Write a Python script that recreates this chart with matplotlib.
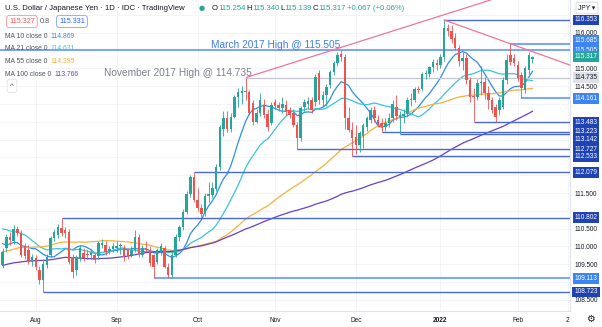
import numpy as np
import pandas as pd
import matplotlib
matplotlib.use("Agg")
import matplotlib.pyplot as plt
from matplotlib.patches import Rectangle

plt.rcParams["font.family"] = ["Liberation Sans", "DejaVu Sans"]

# daily closes before the visible window (feed for the moving averages)
hist_closes = [
    106.75, 106.70, 107.00, 107.98, 108.33, 108.90, 108.50, 108.38, 108.50, 109.04,
    109.13, 109.00, 108.85, 109.25, 108.88, 108.87, 108.57, 108.57, 109.00, 109.65,
    109.80, 110.39, 110.70,
    110.65, 110.28, 110.18, 109.75, 109.85, 109.25, 109.65, 109.40, 109.05, 108.90,
    108.75, 108.80, 108.13, 108.11, 108.07, 107.95, 107.88, 108.10, 108.75, 108.60,
    108.95, 109.30,
    109.45, 109.35, 109.18, 109.25, 108.60, 108.80, 108.60, 109.70, 109.65, 109.35,
    109.20, 108.90, 109.20, 108.75, 108.95, 108.75, 108.75, 109.15, 109.85, 109.85,
    109.55,
    109.50, 109.55, 110.30, 109.50, 109.25, 109.45, 109.60, 109.30, 109.70, 110.05,
    110.05, 110.70, 110.20, 110.20, 110.25, 110.65, 110.95, 110.85, 110.75, 110.60,
    110.50, 111.10,
    111.55, 111.05, 110.95, 110.60, 110.65, 109.80, 110.15, 110.40, 110.62, 109.95,
    109.80, 110.08, 109.48,
]

# USD/JPY daily candles, 20 Jul 2021 - 7 Feb 2022
opens = [
    109.48, 109.95, 110.27, 110.15, 110.50, 110.38, 110.02, 109.90, 109.57, 109.67,
    109.34, 109.06, 109.48, 109.76, 110.23, 110.32, 110.52, 110.45, 110.41, 109.71,
    109.34, 109.67, 109.82, 109.80, 109.76, 109.76, 109.72, 110.04, 110.04, 109.88,
    109.92, 109.96, 110.00, 109.95, 109.90, 109.75, 109.90, 110.27, 109.76, 109.95,
    109.90, 109.76, 109.57, 109.85, 109.95, 109.43, 109.20, 109.76, 110.27, 110.55,
    110.98, 111.48, 111.96, 111.30, 111.08, 110.94, 111.42, 111.45, 111.60, 112.24,
    113.30, 113.60, 113.30, 113.64, 114.20, 114.31, 114.37, 114.34, 114.02, 113.50,
    113.74, 113.95, 113.72, 113.45, 114.05, 113.97, 113.88, 113.97, 113.83, 113.74,
    113.40, 113.03, 113.92, 114.00, 114.10, 114.06, 114.86, 114.10, 114.25, 114.53,
    114.90, 115.14, 115.40, 115.32, 113.60, 113.27, 113.08, 112.85, 113.10, 113.36,
    113.55, 113.83, 113.55, 113.45, 113.35, 113.45, 113.60, 113.90, 113.62, 113.65,
    113.72, 114.10, 114.12, 114.42, 114.41, 114.83, 114.85, 115.04, 115.15, 115.08,
    115.31, 116.12, 116.05, 115.85, 115.57, 115.20, 115.30, 114.66, 114.22, 114.20,
    114.58, 114.62, 114.30, 114.10, 113.92, 113.83, 113.92, 114.67, 115.37, 115.30,
    115.09, 114.81, 114.39, 114.95, 115.254,
]
highs = [
    109.95, 110.35, 110.40, 110.60, 110.58, 110.45, 110.10, 110.05, 109.80, 109.75,
    109.45, 109.65, 109.80, 110.30, 110.50, 110.62, 110.802, 110.55, 110.48, 109.80,
    109.75, 110.05, 109.95, 109.90, 109.92, 109.82, 110.15, 110.20, 110.15, 110.00,
    110.10, 110.15, 110.10, 110.05, 109.95, 110.00, 110.45, 110.35, 110.05, 110.15,
    110.00, 109.80, 109.95, 110.10, 110.00, 109.55, 109.85, 110.35, 110.60, 111.05,
    111.55, 112.00, 112.079, 111.65, 111.20, 111.50, 111.80, 111.80, 112.30, 113.40,
    113.80, 113.80, 113.75, 114.25, 114.45, 114.50, 114.735, 114.40, 114.10, 113.85,
    114.30, 114.15, 113.85, 114.05, 114.15, 114.05, 114.20, 114.10, 113.90, 113.85,
    113.50, 113.95, 114.15, 114.20, 114.20, 114.85, 114.95, 114.35, 114.55, 114.95,
    115.20, 115.45, 115.52, 115.40, 113.90, 113.50, 113.40, 113.25, 113.45, 113.65,
    113.90, 113.95, 113.70, 113.60, 113.60, 113.75, 114.10, 114.25, 113.80, 113.85,
    114.20, 114.30, 114.48, 114.50, 114.90, 114.95, 115.05, 115.25, 115.25, 115.40,
    116.353, 116.25, 116.20, 116.00, 115.65, 115.45, 115.40, 114.75, 114.45, 114.70,
    115.05, 114.75, 114.50, 114.20, 114.00, 114.20, 114.75, 115.40, 115.685, 115.40,
    115.20, 114.90, 115.05, 115.45, 115.340,
]
lows = [
    109.40, 109.85, 110.05, 110.08, 110.30, 109.70, 109.65, 109.50, 109.45, 109.35,
    108.95, 108.723, 109.40, 109.70, 110.15, 110.25, 110.30, 110.25, 109.50, 109.12,
    109.20, 109.60, 109.60, 109.65, 109.65, 109.55, 109.65, 109.95, 109.75, 109.80,
    109.85, 109.85, 109.80, 109.60, 109.65, 109.70, 109.85, 109.70, 109.70, 109.85,
    109.45, 109.113, 109.50, 109.75, 109.40, 109.12, 109.12, 109.70, 110.15, 110.45,
    110.90, 111.40, 111.25, 111.00, 110.82, 110.85, 111.25, 111.35, 111.55, 112.15,
    113.10, 113.20, 113.20, 113.60, 113.90, 114.00, 114.10, 113.70, 113.41, 113.45,
    113.65, 113.60, 113.25, 113.40, 113.85, 113.80, 113.75, 113.70, 113.60, 113.35,
    112.727, 112.95, 113.80, 113.85, 113.75, 113.95, 114.00, 113.90, 113.95, 114.45,
    114.80, 115.05, 115.20, 113.30, 113.20, 112.533, 112.60, 112.65, 112.75, 113.25,
    113.45, 113.50, 113.35, 113.223, 113.25, 113.35, 113.50, 113.55, 113.142, 113.45,
    113.65, 113.95, 114.05, 114.30, 114.35, 114.70, 114.75, 114.90, 114.95, 115.00,
    115.20, 115.90, 115.70, 115.50, 115.05, 114.95, 114.55, 114.05, 113.483, 114.10,
    114.25, 114.15, 113.85, 113.75, 113.50, 113.70, 113.85, 114.55, 115.10, 115.05,
    114.65, 114.161, 114.30, 114.85, 115.139,
]
closes = [
    109.85, 110.27, 110.18, 110.50, 110.38, 109.76, 109.72, 109.57, 109.71, 109.43,
    109.06, 109.50, 109.71, 110.23, 110.41, 110.55, 110.38, 110.38, 109.57, 109.29,
    109.71, 109.95, 109.67, 109.75, 109.85, 109.62, 110.10, 110.10, 109.85, 109.92,
    110.00, 110.02, 110.04, 109.71, 109.72, 109.90, 110.27, 109.80, 109.95, 109.90,
    109.53, 109.43, 109.90, 110.00, 109.43, 109.20, 109.76, 110.27, 110.55, 110.98,
    111.48, 111.96, 111.30, 111.08, 110.90, 111.42, 111.48, 111.64, 112.24, 113.36,
    113.60, 113.30, 113.64, 114.20, 114.34, 114.37, 114.32, 113.74, 113.50, 113.74,
    114.10, 113.70, 113.35, 113.97, 113.95, 113.88, 114.00, 113.78, 113.69, 113.40,
    113.03, 113.88, 114.06, 114.08, 113.83, 114.76, 114.10, 114.25, 114.48, 114.90,
    115.14, 115.37, 115.32, 113.60, 113.27, 113.04, 112.85, 113.17, 113.40, 113.60,
    113.83, 113.60, 113.41, 113.35, 113.45, 113.60, 114.00, 113.65, 113.70, 113.72,
    114.10, 114.15, 114.41, 114.38, 114.83, 114.88, 115.03, 115.18, 115.08, 115.31,
    116.12, 116.05, 115.82, 115.57, 115.20, 115.30, 114.66, 114.18, 114.20, 114.58,
    114.62, 114.30, 114.10, 113.83, 113.64, 114.10, 114.67, 115.23, 115.18, 115.14,
    114.72, 114.44, 115.00, 115.36, 115.317,
]

month_ticks = [9, 31, 53, 74, 96, 119, 140, 153.6]
month_labels = ["Aug", "Sep", "Oct", "Nov", "Dec", "2022", "Feb", "2"]

ma_periods = [10, 21, 55, 100]
ma_colors = ["#2e8eea", "#3cc3dc", "#fbb034", "#6a3fc0"]
ma_values = ["114.869", "114.631", "114.395", "113.766"]

# support / resistance levels: value, first bar, style
level_values = [116.353, 115.685, 115.505, 114.161, 113.483, 113.223, 113.142,
                112.727, 112.533, 112.079, 110.802, 109.113, 108.723]
level_starts = [120, 138, -1, 141, 128, 103, 108, 80, 95, 52, 16, 41, 11]
level_dark = [True, False, False, False, True, True, True,
              True, True, True, True, False, True]
# tags that would collide on the price scale are shifted (pixels, + = down)
tag_shift = {115.685: -3.5, 113.142: 4.8}

nov17_high = 114.735
nov17_start = 66
rise_pts = [(66, 114.735), (101, 115.88)]
fall_pts = [(120, 116.353), (154.2, 115.088)]

GREEN = "#26a69a"
RED = "#ef5350"
TXT = "#131722"
W, H = 602, 327

fig = plt.figure(figsize=(W / 100, H / 100), dpi=100)
ax = fig.add_axes([0, (H - 311) / H, 570 / W, 311 / H])
XL, XR = -0.73, 154.2
YB, YT = 108.19, 116.914
ax.set_xlim(XL, XR)
ax.set_ylim(YB, YT)
px_per_unit = 311 / (YT - YB)

# price scale: labels hidden under a level tag are left blank
grid_prices = np.arange(108.5, 116.51, 0.5)
tagged = level_values + [nov17_high, closes[-1]]
ax.set_yticks(grid_prices)
ax.yaxis.tick_right()
ax.set_yticklabels(["" if min(abs(v - t) for t in tagged) < 0.21 else f"{v:.3f}"
                    for v in grid_prices])
ax.set_xticks(month_ticks)
ax.set_xticklabels(month_labels)
ax.tick_params(axis="y", length=0, pad=3.2, labelsize=4.7, labelcolor=TXT)
ax.tick_params(axis="x", length=0, pad=4.5, labelsize=4.7, labelcolor=TXT)
ax.get_xticklabels()[5].set_fontweight("bold")
ax.grid(color="#f0f3fa", lw=0.6)
ax.set_axisbelow(True)
for side in ["top", "left"]:
    ax.spines[side].set_visible(False)
for side in ["right", "bottom"]:
    ax.spines[side].set_color("#e0e3eb")
    ax.spines[side].set_linewidth(0.8)

# moving averages
allc = pd.Series(hist_closes + closes)
n_hist = len(hist_closes)
x = np.arange(len(closes))
for p, col in zip(ma_periods, ma_colors):
    ma = allc.rolling(p).mean().iloc[n_hist:].to_numpy()
    ax.plot(x, ma, color=col, lw=0.9, zorder=2.6)

# candles
o = np.array(opens)
c = np.array(closes)
cols = np.where(c >= o, GREEN, RED)
ax.vlines(x, lows, highs, colors=cols, lw=0.6, zorder=3)
ax.bar(x, np.maximum(np.abs(c - o), 0.015), bottom=np.minimum(o, c), width=0.68,
       color=cols, linewidth=0, zorder=3.2)

# horizontal levels with price tags
ytr = ax.get_yaxis_transform()
for v, s, dark in zip(level_values, level_starts, level_dark):
    lc = "#4a68d6" if dark else "#7fa6f4"
    lw = 1.0 if dark else 1.5
    ax.plot([max(s, XL), XR], [v, v], color=lc, lw=lw, zorder=2.8, solid_capstyle="butt")
    ty = v - tag_shift.get(v, 0) / px_per_unit
    ax.text(1.028, ty, f"{v:.3f}", transform=ytr, ha="center", va="center",
            fontsize=4.7, color="white", clip_on=False, zorder=10,
            bbox=dict(boxstyle="square,pad=0.3", fc="#1f43b3" if dark else "#3d85f2", ec="none"))

ax.plot([nov17_start, XR], [nov17_high, nov17_high], color="#c3c6ce", lw=0.9, zorder=2.7)
ax.text(1.028, nov17_high, f"{nov17_high:.3f}", transform=ytr, ha="center", va="center",
        fontsize=4.7, color=TXT, clip_on=False, zorder=10,
        bbox=dict(boxstyle="square,pad=0.3", fc="#dfe1e6", ec="none"))
ax.text(1.028, closes[-1], f"{closes[-1]:.3f}", transform=ytr, ha="center", va="center",
        fontsize=4.7, color="white", clip_on=False, zorder=11,
        bbox=dict(boxstyle="square,pad=0.3", fc=GREEN, ec="none"))

# trend lines: the rising one is a ray starting at its first anchor
ray = ax.axline(rise_pts[0], rise_pts[1], color="#f0749a", lw=0.9, zorder=2.9)
ray.set_clip_path(Rectangle((rise_pts[0][0], 100), 200, 30, transform=ax.transData))
ax.plot([fall_pts[0][0], fall_pts[1][0]], [fall_pts[0][1], fall_pts[1][1]],
        color="#f0749a", lw=0.9, zorder=2.9)

ax.text(56.5, 115.554, "March 2017 High @ 115.505", color="#3f7fe4", fontsize=7.3,
        va="baseline", zorder=5)
ax.text(27.5, 114.796, "November 2017 High @ 114.735", color="#7d808a", fontsize=7.3,
        va="baseline", zorder=5)


def fx(px):
    return px / W


def fy(py):
    return 1 - py / H


def chain(first, parts, gap=2.2):
    # place texts one after another on the same line
    prev = first
    for txt, col in parts:
        prev = ax.annotate(txt, xy=(1, 0), xycoords=prev, xytext=(gap, 0),
                           textcoords="offset points", ha="left", va="bottom",
                           fontsize=first.get_fontsize(), color=col,
                           annotation_clip=False)
    return prev


# header legend
fig.text(fx(5), fy(8), "U.S. Dollar / Japanese Yen · 1D · IDC · TradingView",
         fontsize=5.6, color=TXT, va="center")
fig.text(fx(202), fy(8), "●", fontsize=5, color=GREEN, ha="center", va="center",
         family="DejaVu Sans")
o0 = fig.text(fx(212), fy(8), "O", fontsize=5.6, color=TXT, va="center")
chain(o0, [("115.254", GREEN), ("H", TXT), ("115.340", GREEN), ("L", TXT),
           ("115.139", GREEN), ("C", TXT), ("115.317", GREEN), ("+0.067 (+0.06%)", GREEN)],
      gap=0.3)

fig.text(fx(9), fy(21.5), "115.327", fontsize=5.2, color="#f7525f", va="center",
         bbox=dict(boxstyle="round,pad=0.35,rounding_size=0.4", fc="white", ec="#f7a1a8", lw=0.7))
fig.text(fx(40), fy(21.5), "0.8", fontsize=5.2, color="#50535e", va="center")
fig.text(fx(59), fy(21.5), "115.331", fontsize=5.2, color="#2962ff", va="center",
         bbox=dict(boxstyle="round,pad=0.35,rounding_size=0.4", fc="white", ec="#8fb0ff", lw=0.7))

for i, (p, col, val) in enumerate(zip(ma_periods, ma_colors, ma_values)):
    lbl = fig.text(fx(5), fy(36.5 + i * 12.5), f"MA {p} close 0", fontsize=4.9,
                   color="#50535e", va="center")
    chain(lbl, [(val, col)], gap=2.0)

fig.text(fx(12), fy(86), "^", fontsize=5.5, color="#50535e", ha="center", va="center",
         bbox=dict(boxstyle="round,pad=0.4,rounding_size=0.3", fc="white", ec="#e0e3eb", lw=0.6))
fig.text(fx(587), fy(8), "JPY ▾", fontsize=4.8, color=TXT, ha="center", va="center",
         bbox=dict(boxstyle="round,pad=0.35,rounding_size=0.3", fc="white", ec="#d1d4dc", lw=0.6))
fig.text(fx(590), fy(319), "⚙", fontsize=7, color=TXT, ha="center", va="center",
         family="DejaVu Sans")

fig.savefig("out.png", dpi=100, facecolor="white")
